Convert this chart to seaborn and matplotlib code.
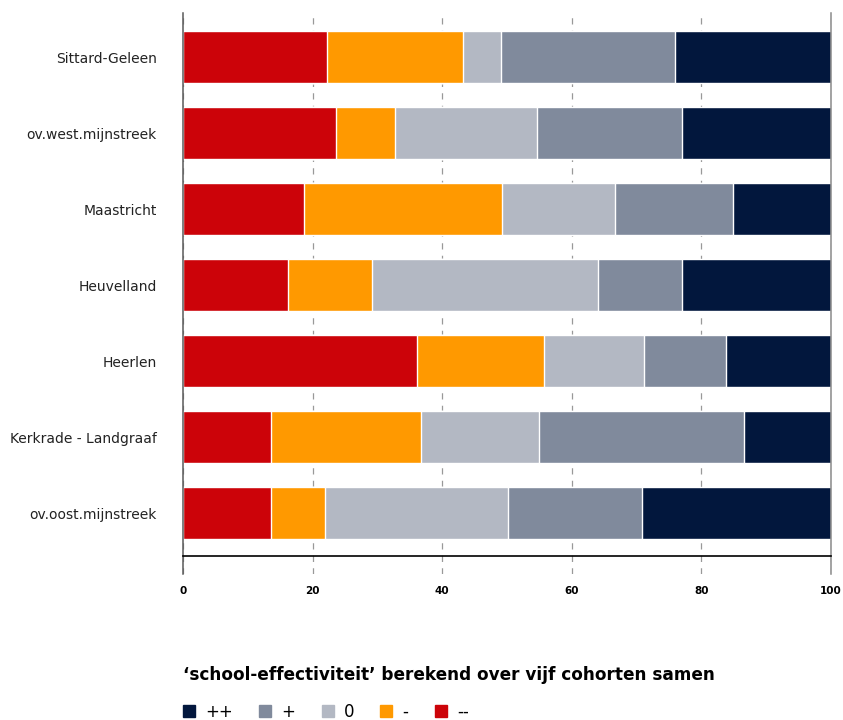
import numpy as np
import pandas as pd
import matplotlib
matplotlib.use("Agg")
import matplotlib.pyplot as plt
import seaborn as sns
from matplotlib.lines import Line2D

regions = ["Sittard-Geleen", "ov.west.mijnstreek", "Maastricht", "Heuvelland",
           "Heerlen", "Kerkrade - Landgraaf", "ov.oost.mijnstreek"]

# percentages per category
vmin2 = [22.2, 23.6, 18.6, 16.2, 36.1, 13.6, 13.6]   # --
vmin1 = [21.0, 9.1, 30.6, 13.0, 19.6, 23.1, 8.3]     # -
vnul = [5.9, 21.9, 17.4, 34.9, 15.4, 18.3, 28.2]     # 0
vplus1 = [26.8, 22.4, 18.3, 12.9, 12.7, 31.5, 20.8]  # +
vplus2 = [24.1, 23.0, 15.1, 23.0, 16.2, 13.5, 29.1]  # ++

labels = ["--", "-", "0", "+", "++"]
colors = ["#CC0309", "#FF9900", "#B3B8C3", "#808A9C", "#02173D"]

df = pd.DataFrame({"region": regions, "--": vmin2, "-": vmin1, "0": vnul,
                   "+": vplus1, "++": vplus2})
cum = df[labels].cumsum(axis=1)

sns.set_style("white")
plt.rcParams["font.family"] = ["DejaVu Sans"]
plt.rcParams["text.color"] = "black"

fig = plt.figure(figsize=(8.43, 7.2), dpi=100)
# axes reaches a bit below the x axis line so grid lines stick out under it
ax = fig.add_axes([183 / 843, 1 - 574 / 720, (831 - 183) / 843, (574 - 13) / 720])

# stacked: draw largest cumulative first
for lab, col in reversed(list(zip(labels, colors))):
    sns.barplot(x=cum[lab], y=df["region"], color=col, orient="h",
                width=0.68, saturation=1, ax=ax, zorder=2)

ax.set_xlim(0, 100)
ax.set_ylim(6.80, -0.58)
ax.set_xticks([0, 20, 40, 60, 80, 100])
ax.set_xlabel("")
ax.set_ylabel("")
ax.grid(axis="x", color="#999999", linestyle=(0, (5, 5)), linewidth=0.9, zorder=0)
ax.set_axisbelow(True)

ax.spines["top"].set_visible(False)
ax.spines["bottom"].set_position(("axes", 18 / 561))
ax.spines["bottom"].set_color("black")
ax.spines["bottom"].set_linewidth(1.2)
ax.spines["left"].set_color("#5a5a5a")
ax.spines["left"].set_linewidth(1.1)
ax.spines["right"].set_color("#8a8a8a")
ax.spines["right"].set_linewidth(1.1)

ax.tick_params(axis="x", length=0, pad=21.5, labelsize=7.5, labelcolor="black")
ax.tick_params(axis="y", left=False, length=0, pad=19, labelsize=10,
               labelcolor="#222222")
for t in ax.get_xticklabels():
    t.set_fontweight("bold")

fig.text(183 / 843, 1 - 675 / 720, "\u2018school-effectiviteit\u2019 berekend over vijf cohorten samen",
         fontsize=12.2, fontweight="bold", va="center", ha="left", color="black")

handles = [Line2D([], [], marker="s", linestyle="", markersize=8.8,
                  markerfacecolor=c, markeredgecolor=c)
           for c in reversed(colors)]
fig.legend(handles, list(reversed(labels)), loc="center left",
           bbox_to_anchor=(183 / 843, 1 - 712 / 720), ncol=5, frameon=False,
           fontsize=12, handletextpad=0.6, columnspacing=1.55, handlelength=0.75,
           borderaxespad=0, borderpad=0)

fig.savefig("out.png", dpi=100)
